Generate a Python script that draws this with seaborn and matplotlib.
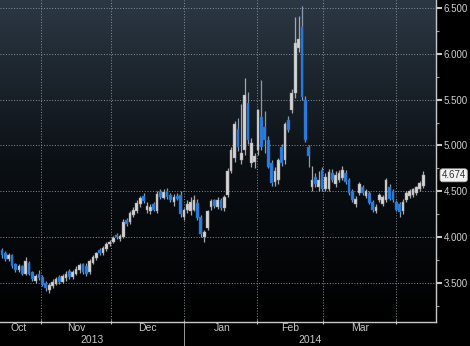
import numpy as np
import pandas as pd
import matplotlib
matplotlib.use("Agg")
import matplotlib.pyplot as plt
import matplotlib.transforms as mtransforms
from matplotlib.colors import LinearSegmentedColormap
import seaborn as sns

# ---------------- data ----------------
opens = [3.86, 3.82, 3.76, 3.80, 3.70, 3.64, 3.68, 3.60, 3.72, 3.62,
         3.52, 3.60, 3.56, 3.50, 3.42, 3.46, 3.49, 3.56, 3.51, 3.55,
         3.63, 3.56, 3.60, 3.64, 3.70, 3.68, 3.62, 3.72, 3.77, 3.86,
         3.82, 3.87, 3.92, 3.95, 4.02, 3.98, 4.00, 4.18, 4.16, 4.24,
         4.28, 4.36, 4.45, 4.30, 4.28, 4.36, 4.28, 4.49, 4.43, 4.50,
         4.46, 4.38, 4.45, 4.46, 4.22, 4.30, 4.28, 4.30, 4.37, 4.22,
         4.00, 4.10, 4.33, 4.40, 4.33, 4.40, 4.32, 4.46, 4.72, 4.86,
         5.18, 4.84, 4.95, 5.47, 4.81, 4.82, 4.95, 5.31, 5.20, 5.06,
         4.81, 4.60, 4.62, 4.98, 4.84, 5.28, 5.39, 5.57, 6.07, 6.30,
         5.50, 4.98, 4.55, 4.66, 4.55, 4.73, 4.52, 4.52, 4.70, 4.58,
         4.62, 4.64, 4.70, 4.62, 4.50, 4.36, 4.48, 4.55, 4.45, 4.48,
         4.38, 4.28, 4.40, 4.36, 4.40, 4.55, 4.50, 4.38, 4.36, 4.28,
         4.40, 4.45, 4.46, 4.48, 4.52, 4.56]
highs = [3.88, 3.85, 3.82, 3.81, 3.72, 3.70, 3.69, 3.78, 3.74, 3.63,
         3.60, 3.64, 3.58, 3.52, 3.50, 3.54, 3.56, 3.58, 3.60, 3.63,
         3.65, 3.64, 3.68, 3.72, 3.72, 3.71, 3.76, 3.80, 3.84, 3.88,
         3.90, 3.94, 3.97, 4.01, 4.04, 4.03, 4.20, 4.21, 4.28, 4.33,
         4.40, 4.45, 4.48, 4.38, 4.36, 4.38, 4.50, 4.52, 4.52, 4.53,
         4.48, 4.47, 4.48, 4.50, 4.32, 4.40, 4.44, 4.46, 4.42, 4.24,
         4.08, 4.30, 4.42, 4.42, 4.44, 4.43, 4.46, 4.75, 4.98, 5.27,
         5.30, 5.45, 5.74, 5.58, 5.08, 4.92, 5.40, 5.72, 5.38, 5.10,
         4.84, 4.76, 4.86, 5.02, 5.26, 5.32, 5.62, 6.40, 6.42, 6.52,
         5.54, 5.00, 4.78, 4.70, 4.72, 4.76, 4.70, 4.74, 4.74, 4.72,
         4.73, 4.78, 4.73, 4.64, 4.52, 4.45, 4.60, 4.57, 4.52, 4.50,
         4.40, 4.36, 4.48, 4.46, 4.64, 4.58, 4.52, 4.40, 4.38, 4.41,
         4.50, 4.52, 4.54, 4.56, 4.61, 4.72]
lows = [3.77, 3.74, 3.74, 3.66, 3.62, 3.62, 3.58, 3.58, 3.58, 3.52,
        3.50, 3.53, 3.46, 3.41, 3.39, 3.44, 3.47, 3.49, 3.50, 3.52,
        3.54, 3.54, 3.58, 3.61, 3.60, 3.57, 3.60, 3.70, 3.75, 3.80,
        3.80, 3.85, 3.90, 3.93, 3.98, 3.96, 3.99, 4.12, 4.14, 4.22,
        4.26, 4.33, 4.37, 4.26, 4.25, 4.28, 4.26, 4.42, 4.41, 4.42,
        4.38, 4.34, 4.40, 4.22, 4.18, 4.26, 4.24, 4.28, 4.18, 4.00,
        3.95, 4.08, 4.30, 4.32, 4.31, 4.30, 4.28, 4.44, 4.70, 4.82,
        4.94, 4.80, 4.90, 5.02, 4.76, 4.75, 4.90, 4.95, 4.92, 4.75,
        4.56, 4.56, 4.58, 4.78, 4.80, 5.15, 5.36, 5.52, 6.02, 5.50,
        5.04, 4.76, 4.50, 4.55, 4.50, 4.50, 4.50, 4.50, 4.60, 4.55,
        4.60, 4.62, 4.58, 4.46, 4.38, 4.33, 4.46, 4.46, 4.43, 4.36,
        4.27, 4.26, 4.38, 4.34, 4.38, 4.40, 4.38, 4.28, 4.22, 4.25,
        4.38, 4.43, 4.44, 4.46, 4.50, 4.54]
closes = [3.80, 3.76, 3.80, 3.68, 3.64, 3.68, 3.60, 3.74, 3.60, 3.54,
          3.57, 3.55, 3.48, 3.44, 3.48, 3.51, 3.54, 3.51, 3.57, 3.60,
          3.56, 3.62, 3.65, 3.69, 3.62, 3.59, 3.74, 3.78, 3.82, 3.82,
          3.88, 3.92, 3.95, 3.99, 4.00, 4.01, 4.16, 4.14, 4.26, 4.30,
          4.37, 4.43, 4.39, 4.34, 4.33, 4.30, 4.47, 4.44, 4.49, 4.44,
          4.40, 4.44, 4.42, 4.25, 4.29, 4.36, 4.38, 4.40, 4.21, 4.03,
          4.05, 4.28, 4.39, 4.34, 4.40, 4.32, 4.44, 4.72, 4.95, 5.24,
          4.98, 4.92, 5.55, 5.06, 5.03, 4.88, 5.39, 4.98, 5.06, 4.77,
          4.59, 4.72, 4.84, 4.81, 5.24, 5.17, 5.57, 6.12, 6.17, 5.53,
          5.06, 4.88, 4.62, 4.58, 4.62, 4.52, 4.66, 4.71, 4.62, 4.68,
          4.70, 4.73, 4.60, 4.48, 4.40, 4.42, 4.58, 4.48, 4.50, 4.37,
          4.29, 4.33, 4.46, 4.44, 4.62, 4.42, 4.40, 4.30, 4.27, 4.38,
          4.48, 4.50, 4.52, 4.55, 4.59, 4.674]

month_labels = ["Oct", "Nov", "Dec", "Jan", "Feb", "Mar"]
month_starts = [11.5, 32.3, 54.0, 75.7, 95.3, 116.9]   # first trading day positions
year_labels = ["2013", "2014"]
y_ticks = [3.5, 4.0, 4.5, 5.0, 5.5, 6.0, 6.5]
last_value = 4.674

# ---------------- style ----------------
sns.set_style("dark")
plt.rcParams['font.family'] = ['Liberation Sans', 'DejaVu Sans']

df = pd.DataFrame({"open": opens, "high": highs, "low": lows, "close": closes})
df["idx"] = np.arange(len(df))
df["up"] = df["close"] >= df["open"]

W, H = 470, 346
fig = plt.figure(figsize=(W / 100, H / 100), dpi=100, facecolor="black")
ax = fig.add_axes([0, 24 / H, 436 / W, 322 / H])

xmin, xmax = -0.6, 128.8
ymin, ymax = 3.070, 6.591
ax.set_xlim(xmin, xmax)
ax.set_ylim(ymin, ymax)

# gradient background
cmap = LinearSegmentedColormap.from_list("bg", ["#000000", "#0b1015", "#2c3844"])
grad = np.linspace(1, 0, 256).reshape(-1, 1)
ax.imshow(grad, cmap=cmap, extent=[xmin, xmax, ymin, ymax], aspect="auto",
          zorder=0, origin="upper", interpolation="bicubic")

# grid
grid_kw = dict(color="#8a9098", lw=0.7, linestyles=(0, (1, 1.8)), zorder=1)
ax.hlines(y_ticks, xmin, xmax, **grid_kw)
ax.vlines(month_starts, ymin, ymax, **grid_kw)

# candles
up = df[df["up"]]
dn = df[~df["up"]]
ax.vlines(up["idx"], up["low"], up["high"], color="#a8a8a8", lw=0.9, zorder=2)
ax.vlines(dn["idx"], dn["low"], dn["high"], color="#8a9bb0", lw=0.9, zorder=2)
ax.bar(up["idx"], (up["close"] - up["open"]).clip(lower=0.01), bottom=up["open"],
       width=0.8, color="#d4d4d4", edgecolor="#9a9a9a", lw=0.3, zorder=3)
ax.bar(dn["idx"], (dn["open"] - dn["close"]).clip(lower=0.01), bottom=dn["close"],
       width=0.8, color="#2b7fe0", edgecolor="#1f64b8", lw=0.3, zorder=3)

# spines
for s in ["top", "left"]:
    ax.spines[s].set_visible(False)
for s in ["right", "bottom"]:
    ax.spines[s].set_visible(True)
    ax.spines[s].set_color("#c8c8c8")
    ax.spines[s].set_linewidth(1.0)

# y axis on right
ax.yaxis.tick_right()
ax.set_yticks(y_ticks)
ax.set_yticklabels([f"{v:.3f}" for v in y_ticks])
ax.set_yticks([v + 0.25 for v in y_ticks[:-1]] + [3.25], minor=True)
ax.tick_params(axis="y", which="major", length=4, width=1.5, color="#c8c8c8",
               labelcolor="#d0d0d0", labelsize=7, pad=1.5, right=True, left=False)
ax.tick_params(axis="y", which="minor", length=2.5, width=0.8, color="#a0a0a0",
               right=True, left=False)

# x axis ticks at month boundaries
ax.set_xticks(month_starts)
ax.set_xticklabels([])
ax.tick_params(axis="x", which="major", length=3, width=0.8, color="#c8c8c8",
               direction="inout", bottom=True)

trans = mtransforms.blended_transform_factory(ax.transData, ax.transAxes)
month_centers = [5.0, 22.0, 43.3, 65.3, 85.5, 106.2]
for lab, xc in zip(month_labels, month_centers):
    ax.text(xc, -0.019, lab, transform=trans, ha="center", va="center",
            color="#c8c8c8", fontsize=7.5, clip_on=False)
year_split = month_starts[2]
year_centers = [(xmin + year_split) / 2, (year_split + xmax) / 2]
for lab, xc in zip(year_labels, year_centers):
    ax.text(xc, -0.056, lab, transform=trans, ha="center", va="center",
            color="#c8c8c8", fontsize=7.5, clip_on=False)
ax.plot([year_split, year_split], [0, -0.08], transform=trans, color="#9a9a9a",
        lw=0.7, clip_on=False)

# last value label
ax.annotate(f"{last_value:.3f}", xy=(1.0, last_value),
            xycoords=("axes fraction", "data"), xytext=(4, 0),
            textcoords="offset points", ha="left", va="center",
            fontsize=7, color="#303030",
            bbox=dict(boxstyle="round,pad=0.15,rounding_size=0.25",
                      fc="#f2f2f2", ec="#bbbbbb", lw=0.6),
            annotation_clip=False)

fig.savefig("out.png", dpi=100, facecolor="black")
